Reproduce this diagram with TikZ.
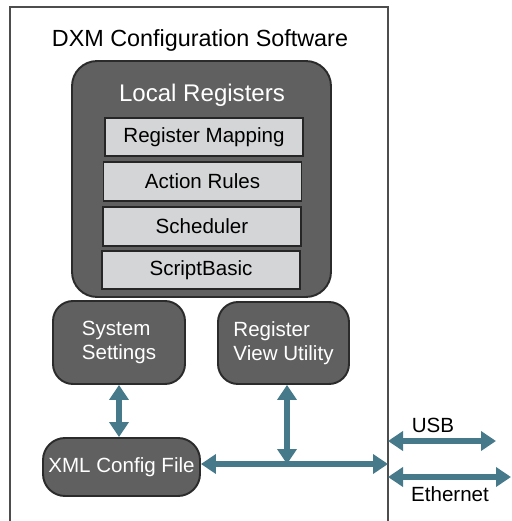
\documentclass[tikz,border=0pt]{standalone}
\usepackage{fontspec}
\setmainfont{Liberation Sans}
\usetikzlibrary{
  arrows.meta,
  positioning
}
\definecolor{busteal}{HTML}{467A8B}
\definecolor{boxdark}{HTML}{606060}
\definecolor{boxedge}{HTML}{2B2B2B}
\definecolor{cellgray}{HTML}{D4D5D7}
\definecolor{framegray}{HTML}{4D4D4D}

\begin{document}
\begin{tikzpicture}[
  x=0.02cm, y=-0.02cm,
  every node/.style={font=\fontsize{11.7}{13.7}\selectfont, inner sep=0pt},
  bigtext/.style={font=\fontsize{13.7}{16}\selectfont},
  darkbox/.style={draw=boxedge, fill=boxdark, line width=1.1pt,
    rounded corners=0.4cm, text=white, align=left},
  cellbox/.style={draw=black!85, fill=cellgray, line width=1.1pt,
    minimum width=3.96cm, minimum height=0.77cm},
  bus/.style={busteal, line width=3.4pt,
    {Triangle[length=0.3cm,width=0.38cm]}-{Triangle[length=0.3cm,width=0.38cm]}},
]

\useasboundingbox (0,0) rectangle (511,521);

% ═══════════════════════════════════════════
% SOFTWARE FRAME (open at the bottom)
% ═══════════════════════════════════════════
\draw[framegray, line width=0.6pt] (10,521) -- (10,7) -- (388,7) -- (388,521);

\node[bigtext, font=\fontsize{13.3}{16}\selectfont] (title) at (200,40) {DXM Configuration Software};

% ═══════════════════════════════════════════
% LOCAL REGISTERS
% ═══════════════════════════════════════════
\node[darkbox, rounded corners=0.5cm, minimum width=5.18cm, minimum height=4.72cm]
  (lreg) at (201.5,179) {};
\node[bigtext, text=white] (lregtitle) at (202,95) {Local Registers};

\node[cellbox] (regmap)   at (204,137)   {Register Mapping};
\node[cellbox] (actrules) at (202.5,181.5) {Action Rules};
\node[cellbox] (sched)    at (202,226.5) {Scheduler};
\node[cellbox] (sbasic)   at (201,270)   {ScriptBasic};

% ═══════════════════════════════════════════
% TOOLS AND CONFIG FILE
% ═══════════════════════════════════════════
\node[darkbox, minimum width=2.64cm, minimum height=1.66cm]
  (sysset) at (119,342.5) {System\\Settings};
\node[darkbox, minimum width=2.62cm, minimum height=1.64cm]
  (regview) at (283.5,343) {Register\\View Utility};
\node[darkbox, rounded corners=0.44cm, minimum width=3.14cm, minimum height=1.16cm]
  (xmlcfg) at (121.5,467) {XML Config File};

% ═══════════════════════════════════════════
% CONNECTIONS
% ═══════════════════════════════════════════
\coordinate (busjoin) at (287,464);
\coordinate (busend) at (388,464);

\draw[bus] (sysset.south) -- (sysset.south |- xmlcfg.north);
\draw[bus] (regview.south -| busjoin) -- (busjoin);
\draw[bus] (xmlcfg.east |- busjoin) -- (busend);

% external ports
\coordinate (usbstart) at (388,441);
\coordinate (usbend) at (496,441);
\coordinate (ethstart) at (388,477);
\coordinate (ethend) at (511,477);

\draw[bus] (usbstart) -- (usbend);
\draw[bus] (ethstart) -- (ethend);

\node (usblabel) at (433,425) {USB};
\node (ethlabel) at (450,494) {Ethernet};

\end{tikzpicture}
\end{document}
